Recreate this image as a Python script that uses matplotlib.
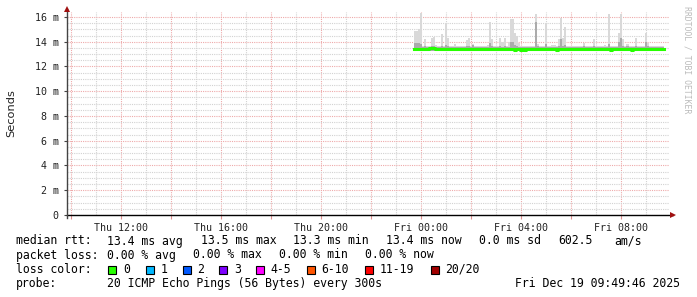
import numpy as np
import matplotlib
matplotlib.use("Agg")
import matplotlib.pyplot as plt
from matplotlib.patches import Rectangle

plt.rcParams['font.family'] = ['DejaVu Sans Mono']

# ---- data (hours counted from Thu 00:00, 5 minute samples) ----
t_start = 23.72          # first sample, Thu 23:43
step = 1 / 12            # 300 s
smoke_min = 13.25        # bottom of the smoke (ms)

smoke_max = [
    14.9, 14.9, 15.0, 16.35, 13.65, 14.2, 13.68, 13.68, 14.3, 14.35,
    13.75, 13.62, 13.62, 14.6, 13.62, 15.5, 14.3, 13.68, 13.68, 13.8,
    13.65, 13.62, 13.62, 13.62, 13.62, 14.1, 14.3, 13.68, 13.8, 13.65,
    13.65, 13.65, 13.65, 13.65, 13.65, 13.75, 15.6, 14.2, 13.62, 13.62,
    13.62, 14.3, 14.0, 14.3, 13.68, 14.0, 15.8, 15.8, 14.67, 14.5,
    13.9, 13.68, 13.68, 13.68, 13.68, 13.68, 13.65, 13.65, 16.2, 13.8,
    13.68, 13.68, 13.68, 15.5, 13.68, 13.68, 13.75, 13.75, 13.65, 14.2,
    15.95, 14.3, 15.2, 13.68, 13.65, 13.65, 13.65, 13.65, 13.65, 13.65,
    13.65, 13.9, 13.65, 13.65, 13.65, 13.65, 14.2, 13.65, 13.65, 13.65,
    13.65, 13.75, 13.68, 16.2, 13.68, 13.65, 13.65, 13.65, 14.7, 16.2,
    14.2, 13.68, 13.8, 13.65, 13.65, 13.65, 14.3, 13.68, 13.68, 13.68,
    13.68, 14.7, 13.9, 13.68, 13.68, 13.68, 13.68, 13.68, 13.68, 13.68,
]

smoke_mid = [
    13.9, 13.9, 13.9, 13.8, 13.58, 13.65, 13.58, 13.58, 13.65, 13.65,
    13.58, 13.55, 13.55, 13.65, 13.55, 13.75, 13.65, 13.58, 13.58, 13.6,
    13.55, 13.55, 13.55, 13.55, 13.55, 13.65, 13.65, 13.58, 13.75, 13.55,
    13.55, 13.55, 13.55, 13.55, 13.55, 13.58, 13.9, 13.65, 13.55, 13.55,
    13.55, 13.65, 13.6, 13.65, 13.58, 13.6, 14.0, 14.0, 13.75, 13.65,
    13.6, 13.58, 13.58, 13.58, 13.58, 13.58, 13.55, 13.55, 15.6, 13.65,
    13.58, 13.58, 13.58, 13.8, 13.58, 13.58, 13.6, 13.6, 13.55, 13.65,
    14.2, 13.65, 13.75, 13.58, 13.55, 13.55, 13.55, 13.55, 13.55, 13.55,
    13.55, 13.65, 13.55, 13.55, 13.55, 13.55, 13.65, 13.55, 13.55, 13.55,
    13.55, 13.6, 13.58, 13.8, 13.58, 13.55, 13.55, 13.55, 14.0, 14.3,
    13.65, 13.58, 13.65, 13.55, 13.55, 13.55, 13.65, 13.58, 13.58, 13.58,
    13.58, 14.0, 13.65, 13.58, 13.58, 13.58, 13.58, 13.58, 13.58, 13.58,
]

median = [
    13.4, 13.4, 13.4, 13.4, 13.4, 13.4, 13.4, 13.48, 13.48, 13.48,
    13.4, 13.4, 13.4, 13.4, 13.4, 13.4, 13.4, 13.4, 13.4, 13.4,
    13.4, 13.4, 13.4, 13.4, 13.4, 13.4, 13.4, 13.4, 13.4, 13.4,
    13.4, 13.4, 13.4, 13.4, 13.4, 13.4, 13.4, 13.4, 13.4, 13.4,
    13.4, 13.4, 13.4, 13.4, 13.4, 13.4, 13.4, 13.4, 13.3, 13.4,
    13.4, 13.3, 13.4, 13.3, 13.4, 13.4, 13.4, 13.4, 13.4, 13.4,
    13.4, 13.4, 13.4, 13.4, 13.4, 13.4, 13.4, 13.4, 13.3, 13.4,
    13.4, 13.4, 13.4, 13.4, 13.4, 13.4, 13.4, 13.4, 13.4, 13.4,
    13.4, 13.4, 13.4, 13.4, 13.4, 13.4, 13.4, 13.4, 13.4, 13.4,
    13.4, 13.4, 13.4, 13.4, 13.3, 13.4, 13.4, 13.4, 13.4, 13.4,
    13.4, 13.4, 13.4, 13.4, 13.3, 13.4, 13.4, 13.4, 13.4, 13.4,
    13.4, 13.4, 13.4, 13.4, 13.4, 13.4, 13.4, 13.4, 13.4, 13.4,
]

x_ticks = [12, 16, 20, 24, 28, 32]
x_labels = ['Thu 12:00', 'Thu 16:00', 'Thu 20:00', 'Fri 00:00', 'Fri 04:00', 'Fri 08:00']
y_ticks = [0, 2, 4, 6, 8, 10, 12, 14, 16]
y_labels = ['0', '2 m', '4 m', '6 m', '8 m', '10 m', '12 m', '14 m', '16 m']

loss_labels = ['0', '1', '2', '3', '4-5', '6-10', '11-19', '20/20']
loss_colors = ['#26ff00', '#00b8ff', '#0059ff', '#7e00ff', '#ff00ff', '#ff5500', '#ff0000', '#a10000']

rtt_parts = ['median rtt:', '13.4 ms avg', '13.5 ms max', '13.3 ms min', '13.4 ms now', '0.0 ms sd', '602.5', 'am/s']
loss_parts = ['packet loss:', '0.00 % avg', '0.00 % max', '0.00 % min', '0.00 % now']
probe_text = '20 ICMP Echo Pings (56 Bytes) every 300s'
stamp = 'Fri Dec 19 09:49:46 2025'

# ---- figure ----
W, H = 697, 297
fig = plt.figure(figsize=(W / 100, H / 100), dpi=100)
fig.patch.set_facecolor('white')


def fx(x):
    return x / W


def fy(y):
    return 1 - y / H


ax = fig.add_axes([fx(67), fy(215), (669 - 67) / W, (215 - 12) / H])
ax.set_xlim(9.84, 33.92)
ax.set_ylim(0, 16.4)

times = t_start + step * np.arange(len(smoke_max))
tx = np.append(times, times[-1] + step)
ax.fill_between(tx, smoke_min, np.append(smoke_max, smoke_max[-1]), step='post',
                color='#d9d9d9', linewidth=0, zorder=3)
ax.fill_between(tx, smoke_min, np.append(smoke_mid, smoke_mid[-1]), step='post',
                color='#ababab', linewidth=0, zorder=3)
ax.step(tx, np.append(median, median[-1]), where='post', color='#26ff00', lw=2.2, zorder=4)

# grid
ax.set_xticks(np.arange(10, 34, 2))
ax.set_xticklabels([x_labels[x_ticks.index(v)] if v in x_ticks else '' for v in np.arange(10, 34, 2)])
ax.set_xticks(np.arange(10, 34, 1), minor=True)
ax.set_yticks(y_ticks)
ax.set_yticklabels(y_labels)
ax.set_yticks(np.arange(0, 16.5, 0.5), minor=True)
ax.grid(which='minor', color='#d2d2d2', linestyle=(0, (1, 1)), lw=0.8, zorder=1)
ax.grid(which='major', color='#eeaaaa', linestyle=(0, (1, 1)), lw=0.8, zorder=2)

for s in ax.spines.values():
    s.set_visible(False)
ax.plot([0, 1.006], [0, 0], transform=ax.transAxes, color='black', lw=1, clip_on=False, zorder=6)
ax.plot([0, 0], [-0.015, 1.015], transform=ax.transAxes, color='#444444', lw=1, clip_on=False, zorder=6)
ax.plot([1.006], [0], marker='>', transform=ax.transAxes, color='#a01010', ms=4, mew=0, clip_on=False, zorder=7)
ax.plot([0], [1.015], marker='^', transform=ax.transAxes, color='#a01010', ms=4, mew=0, clip_on=False, zorder=7)

ax.tick_params(axis='x', which='major', length=3, direction='out', color='#e09090', labelsize=7.2, pad=3)
ax.tick_params(axis='x', which='minor', length=0)
ax.tick_params(axis='y', which='major', length=2, direction='out', color='#444444', labelsize=7.2, pad=4)
ax.tick_params(axis='y', which='minor', length=0)
for lab in ax.get_xticklabels() + ax.get_yticklabels():
    lab.set_color('#222222')

# axis title and watermark
fig.text(fx(11), fy(113), 'Seconds', rotation=90, ha='center', va='center',
         fontsize=8.2, family='DejaVu Sans', color='#222222')
fig.text(fx(687), fy(60), 'RRDTOOL / TOBI OETIKER', rotation=-90, ha='center', va='center',
         fontsize=5.9, color='#bbbbbb')

# legend lines
fs = 8.3
rtt_x = [16, 107, 200.7, 293.3, 386, 479.3, 558.3, 614.3]
for s, x in zip(rtt_parts, rtt_x):
    fig.text(fx(x), fy(241), s, ha='left', va='center', fontsize=fs, color='black')
loss_x = [16, 107, 193.3, 279.3, 365]
for s, x in zip(loss_parts, loss_x):
    fig.text(fx(x), fy(255), s, ha='left', va='center', fontsize=fs, color='black')

fig.text(fx(16), fy(269.5), 'loss color:', ha='left', va='center', fontsize=fs, color='black')
box_x = [108.3, 145.7, 182.7, 219.3, 256, 306.7, 365, 430.7]
for lab, col, x in zip(loss_labels, loss_colors, box_x):
    fig.patches.append(Rectangle((fx(x), fy(273.7)), 8 / W, 8 / H, transform=fig.transFigure,
                                 facecolor=col, edgecolor='black', lw=0.8))
    fig.text(fx(x + 14.5), fy(269.5), lab, ha='left', va='center', fontsize=fs, color='black')

fig.text(fx(16), fy(283.5), 'probe:', ha='left', va='center', fontsize=fs, color='black')
fig.text(fx(107), fy(283.5), probe_text, ha='left', va='center', fontsize=fs, color='black')
fig.text(fx(680), fy(283.5), stamp, ha='right', va='center', fontsize=fs, color='black')

fig.savefig('out.png', dpi=100)
